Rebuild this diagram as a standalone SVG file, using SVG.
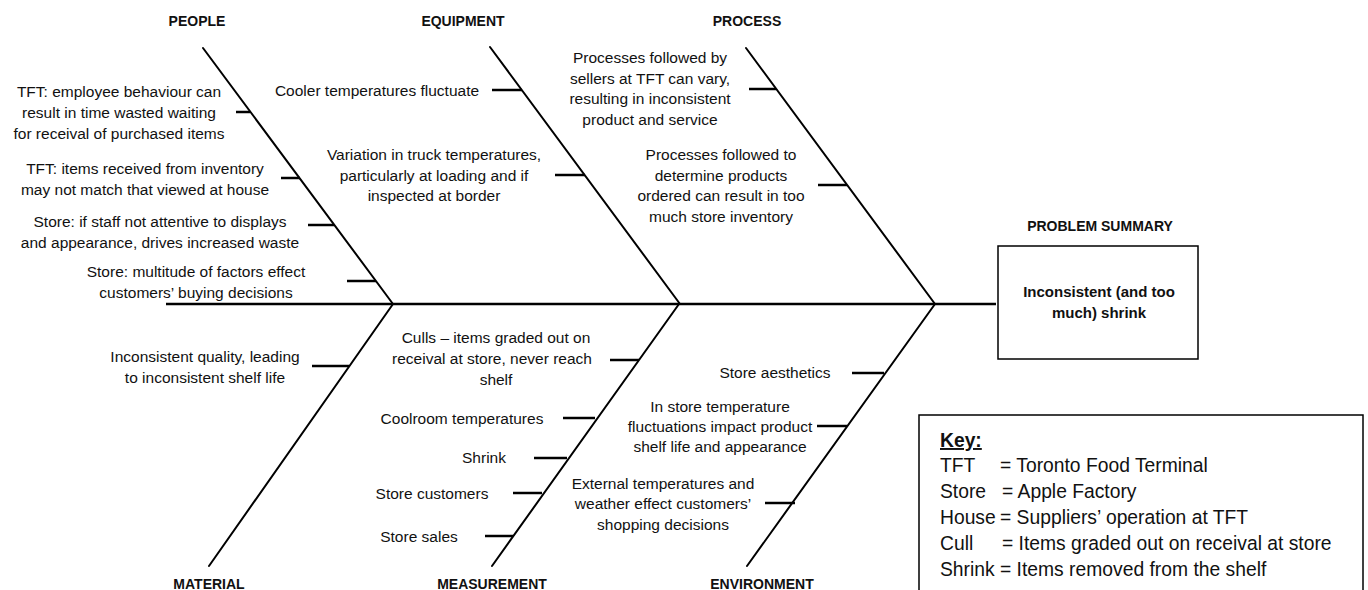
<svg xmlns="http://www.w3.org/2000/svg" width="1368" height="590" viewBox="0 0 1368 590">
  <style>
    .bone { stroke: #000; stroke-width: 2; fill: none; stroke-linecap: round; }
    .spine { stroke: #000; stroke-width: 2.5; fill: none; }
    .tick { stroke: #000; stroke-width: 2.5; fill: none; }
    .frame { stroke: #000; stroke-width: 1.5; fill: #fff; }
    .title { font-family: "Liberation Sans", Arial, sans-serif; font-size: 14px; font-weight: bold; fill: #111; text-anchor: middle; }
    .cause { font-family: "Liberation Sans", Arial, sans-serif; font-size: 15.5px; fill: #111; text-anchor: middle; }
    .effect { font-family: "Liberation Sans", Arial, sans-serif; font-size: 15px; font-weight: bold; fill: #111; text-anchor: middle; }
    .key { font-family: "Liberation Sans", Arial, sans-serif; font-size: 19.3px; fill: #111; }
  </style>
  <rect width="1368" height="590" fill="#fff"/>

  <!-- fishbone skeleton -->
  <g id="connectors">
    <line class="spine" x1="166" y1="304" x2="996" y2="304"/>
    <!-- upper bones -->
    <line class="bone" x1="203" y1="48" x2="393" y2="304"/>
    <line class="bone" x1="490" y1="47" x2="680" y2="304"/>
    <line class="bone" x1="746" y1="48" x2="935" y2="304"/>
    <!-- lower bones -->
    <line class="bone" x1="209" y1="566" x2="393" y2="304"/>
    <line class="bone" x1="492" y1="566" x2="679" y2="304"/>
    <line class="bone" x1="747" y1="566" x2="935" y2="304"/>
    <!-- cause ticks: people -->
    <line class="tick" x1="236" y1="112" x2="250" y2="112"/>
    <line class="tick" x1="281" y1="178" x2="300" y2="178"/>
    <line class="tick" x1="308" y1="225" x2="334" y2="225"/>
    <line class="tick" x1="347" y1="281" x2="376" y2="281"/>
    <!-- equipment -->
    <line class="tick" x1="492" y1="90" x2="522" y2="90"/>
    <line class="tick" x1="555" y1="175" x2="585" y2="175"/>
    <!-- process -->
    <line class="tick" x1="749" y1="89" x2="776" y2="89"/>
    <line class="tick" x1="818" y1="185" x2="847" y2="185"/>
    <!-- material -->
    <line class="tick" x1="312" y1="366" x2="349" y2="366"/>
    <!-- measurement -->
    <line class="tick" x1="610" y1="360" x2="639" y2="360"/>
    <line class="tick" x1="563" y1="418" x2="595" y2="418"/>
    <line class="tick" x1="534" y1="458" x2="567" y2="458"/>
    <line class="tick" x1="513" y1="493" x2="542" y2="493"/>
    <line class="tick" x1="485" y1="536" x2="513" y2="536"/>
    <!-- environment -->
    <line class="tick" x1="852" y1="373" x2="884" y2="373"/>
    <line class="tick" x1="817" y1="426" x2="847" y2="426"/>
    <line class="tick" x1="765" y1="503" x2="795" y2="503"/>
  </g>

  <!-- category headings and causes -->
  <g id="people">
    <text class="title" x="197" y="26">PEOPLE</text>
    <text class="cause" x="119" y="97">TFT: employee behaviour can</text>
    <text class="cause" x="119" y="118">result in time wasted waiting</text>
    <text class="cause" x="119" y="139">for receival of purchased items</text>
    <text class="cause" x="145" y="174">TFT: items received from inventory</text>
    <text class="cause" x="145" y="195">may not match that viewed at house</text>
    <text class="cause" x="160" y="227">Store: if staff not attentive to displays</text>
    <text class="cause" x="160" y="248">and appearance, drives increased waste</text>
    <text class="cause" x="196" y="277">Store: multitude of factors effect</text>
    <text class="cause" x="196" y="298">customers’ buying decisions</text>
  </g>

  <g id="equipment">
    <text class="title" x="463" y="26">EQUIPMENT</text>
    <text class="cause" x="377" y="96">Cooler temperatures fluctuate</text>
    <text class="cause" x="434" y="160">Variation in truck temperatures,</text>
    <text class="cause" x="434" y="181">particularly at loading and if</text>
    <text class="cause" x="434" y="201">inspected at border</text>
  </g>

  <g id="process">
    <text class="title" x="747" y="26">PROCESS</text>
    <text class="cause" x="650" y="63">Processes followed by</text>
    <text class="cause" x="650" y="84">sellers at TFT can vary,</text>
    <text class="cause" x="650" y="104">resulting in inconsistent</text>
    <text class="cause" x="650" y="125">product and service</text>
    <text class="cause" x="721" y="160">Processes followed to</text>
    <text class="cause" x="721" y="181">determine products</text>
    <text class="cause" x="721" y="201">ordered can result in too</text>
    <text class="cause" x="721" y="222">much store inventory</text>
  </g>

  <g id="material">
    <text class="title" x="209" y="589">MATERIAL</text>
    <text class="cause" x="205" y="362">Inconsistent quality, leading</text>
    <text class="cause" x="205" y="383">to inconsistent shelf life</text>
  </g>

  <g id="measurement">
    <text class="title" x="492" y="589">MEASUREMENT</text>
    <text class="cause" x="496" y="343">Culls – items graded out on</text>
    <text class="cause" x="492" y="364">receival at store, never reach</text>
    <text class="cause" x="496" y="385">shelf</text>
    <text class="cause" x="462" y="424">Coolroom temperatures</text>
    <text class="cause" x="484" y="463">Shrink</text>
    <text class="cause" x="432" y="499">Store customers</text>
    <text class="cause" x="419" y="542">Store sales</text>
  </g>

  <g id="environment">
    <text class="title" x="762" y="589">ENVIRONMENT</text>
    <text class="cause" x="775" y="378">Store aesthetics</text>
    <text class="cause" x="720" y="412">In store temperature</text>
    <text class="cause" x="720" y="432">fluctuations impact product</text>
    <text class="cause" x="720" y="452">shelf life and appearance</text>
    <text class="cause" x="663" y="489">External temperatures and</text>
    <text class="cause" x="663" y="509">weather effect customers’</text>
    <text class="cause" x="663" y="530">shopping decisions</text>
  </g>

  <!-- effect box -->
  <g id="problem">
    <text class="title" x="1100" y="231">PROBLEM SUMMARY</text>
    <rect class="frame" x="998" y="246" width="200" height="113"/>
    <text class="effect" x="1099" y="297">Inconsistent (and too</text>
    <text class="effect" x="1099" y="318">much) shrink</text>
  </g>

  <!-- abbreviations legend -->
  <g id="key">
    <rect class="frame" x="919" y="415" width="444" height="190"/>
    <text class="key" x="940" y="447" font-weight="bold" text-decoration="underline">Key:</text>
    <text class="key" x="940" y="472">TFT</text>
    <text class="key" x="1000" y="472">= Toronto Food Terminal</text>
    <text class="key" x="940" y="498">Store</text>
    <text class="key" x="1002" y="498">= Apple Factory</text>
    <text class="key" x="940" y="524">House</text>
    <text class="key" x="1000" y="524">= Suppliers’ operation at TFT</text>
    <text class="key" x="940" y="550">Cull</text>
    <text class="key" x="1002" y="550">= Items graded out on receival at store</text>
    <text class="key" x="940" y="576">Shrink</text>
    <text class="key" x="1000" y="576">= Items removed from the shelf</text>
  </g>
</svg>
